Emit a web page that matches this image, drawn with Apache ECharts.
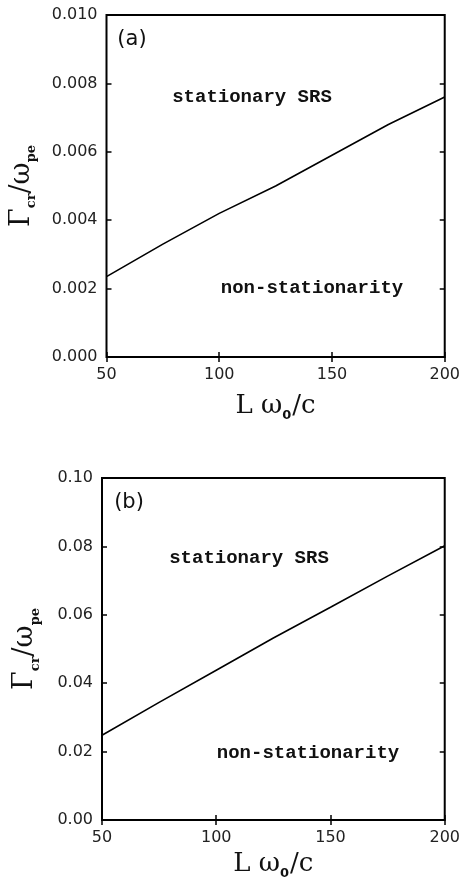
<!DOCTYPE html>
<html>
<head>
<meta charset="utf-8">
<script src="https://cdn.jsdelivr.net/npm/echarts@6/dist/echarts.min.js"></script>
<style>
  html, body { margin: 0; padding: 0; background: #fff; }
  #main { width: 463px; height: 881px; }
</style>
</head>
<body>
<div id="main"></div>
<script>
// data
var xValues = [50, 75, 100, 125, 150, 175, 200];
var gammaA = [0.00235, 0.0033, 0.0042, 0.0050, 0.0059, 0.0068, 0.0076];
var gammaB = [0.0248, 0.0344, 0.0438, 0.0532, 0.0622, 0.0713, 0.0802];
var xTicks = [50, 100, 150, 200];
var yTicksA = [0, 0.002, 0.004, 0.006, 0.008, 0.010];
var yTicksB = [0, 0.02, 0.04, 0.06, 0.08, 0.10];

var tickFont = 'DejaVu Sans';
var labelFont = 'Liberation Mono';

function pairs(xs, ys) {
  return xs.map(function (x, i) { return [x, ys[i]]; });
}

var xNameRich = {
  m: { fontFamily: 'DejaVu Serif', fontSize: 26, color: '#111', lineHeight: 32, verticalAlign: 'middle' },
  s: { fontFamily: 'DejaVu Sans', fontWeight: 'bold', fontSize: 13, color: '#111', lineHeight: 13, verticalAlign: 'bottom', padding: [0, 1, 0, 0] }
};
var yNameRich = {
  m: { fontFamily: 'DejaVu Serif', fontSize: 27, color: '#111', lineHeight: 34, verticalAlign: 'middle' },
  s: { fontFamily: 'DejaVu Serif', fontWeight: 'bold', fontSize: 13, color: '#111', lineHeight: 13, verticalAlign: 'bottom' }
};

function xAxes(gi, gap) {
  var base = {
    type: 'value', gridIndex: gi,
    min: xTicks[0], max: xTicks[xTicks.length - 1], interval: xTicks[1] - xTicks[0],
    axisLine: { show: false },
    axisTick: { show: true, inside: true, length: 5, lineStyle: { color: '#000', width: 1.5 } },
    splitLine: { show: false }
  };
  return [
    Object.assign({}, base, {
      position: 'bottom',
      axisLabel: { color: '#222', fontFamily: tickFont, fontSize: 16, margin: 10 },
      name: '{m|L ω}{s|0}{m|/c}',
      nameLocation: 'middle', nameGap: gap,
      nameTextStyle: { rich: xNameRich }
    }),
    Object.assign({}, base, { position: 'top', axisLabel: { show: false } })
  ];
}

function yAxes(gi, ticks, digits, gap) {
  var base = {
    type: 'value', gridIndex: gi,
    min: ticks[0], max: ticks[ticks.length - 1], interval: ticks[1] - ticks[0],
    axisLine: { show: false },
    axisTick: { show: true, inside: true, length: 5, lineStyle: { color: '#000', width: 1.5 } },
    splitLine: { show: false }
  };
  return [
    Object.assign({}, base, {
      position: 'left',
      axisLabel: {
        color: '#222', fontFamily: tickFont, fontSize: 16, margin: 9,
        formatter: function (v) { return v.toFixed(digits); }
      },
      name: '{m|Γ}{s|cr}{m|/ω}{s|pe}',
      nameLocation: 'middle', nameRotate: 90, nameGap: gap,
      nameTextStyle: { rich: yNameRich }
    }),
    Object.assign({}, base, { position: 'right', axisLabel: { show: false } })
  ];
}

var myChart = echarts.init(document.getElementById('main'));

var option = {
  animation: false,
  backgroundColor: '#fff',
  grid: [
    { left: 105, top: 15, width: 344, height: 342, show: true, borderColor: '#000', borderWidth: 2 },
    { left: 102, top: 478, width: 345, height: 343, show: true, borderColor: '#000', borderWidth: 2 }
  ],
  xAxis: xAxes(0, 33).concat(xAxes(1, 28)),
  yAxis: yAxes(0, yTicksA, 3, 68).concat(yAxes(1, yTicksB, 2, 60)),
  series: [
    {
      type: 'line', xAxisIndex: 0, yAxisIndex: 0,
      data: pairs(xValues, gammaA),
      showSymbol: false,
      lineStyle: { color: '#000', width: 1.6 }
    },
    {
      type: 'line', xAxisIndex: 2, yAxisIndex: 2,
      data: pairs(xValues, gammaB),
      showSymbol: false,
      lineStyle: { color: '#000', width: 1.6 }
    }
  ],
  graphic: [
    { type: 'text', x: 132, y: 40, style: { text: '(a)', font: '21px DejaVu Sans', fill: '#111', align: 'center', verticalAlign: 'middle' } },
    { type: 'text', x: 252, y: 97, style: { text: 'stationary SRS', font: 'bold 19px ' + labelFont, fill: '#111', align: 'center', verticalAlign: 'middle' } },
    { type: 'text', x: 312, y: 288, style: { text: 'non-stationarity', font: 'bold 19px ' + labelFont, fill: '#111', align: 'center', verticalAlign: 'middle' } },
    { type: 'text', x: 129, y: 503, style: { text: '(b)', font: '21px DejaVu Sans', fill: '#111', align: 'center', verticalAlign: 'middle' } },
    { type: 'text', x: 249, y: 558, style: { text: 'stationary SRS', font: 'bold 19px ' + labelFont, fill: '#111', align: 'center', verticalAlign: 'middle' } },
    { type: 'text', x: 308, y: 753, style: { text: 'non-stationarity', font: 'bold 19px ' + labelFont, fill: '#111', align: 'center', verticalAlign: 'middle' } }
  ]
};

myChart.setOption(option);
</script>
</body>
</html>
